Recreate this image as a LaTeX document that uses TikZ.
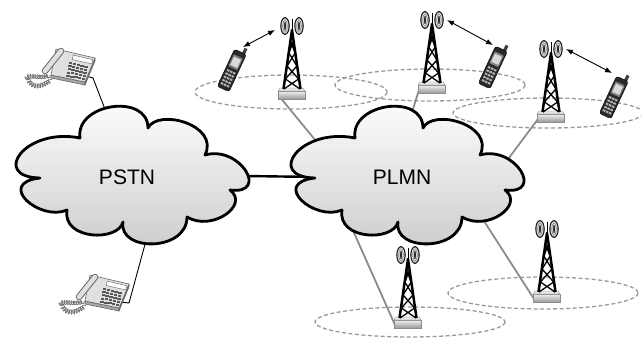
\documentclass[tikz,border=0pt]{standalone}
\usepackage{fontspec}
\setmainfont{Liberation Sans}
\usetikzlibrary{arrows.meta,decorations.pathmorphing}
\pgfdeclarelayer{bg}
\pgfsetlayers{bg,main}
\definecolor{linkgray}{HTML}{8C8C8C}
\definecolor{cellgray}{HTML}{9A9A9A}
\definecolor{phonebody}{HTML}{2A2A2A}
\tikzset{
  cloudshape/.style={line width=2.8pt, line join=round, draw=black,
                     top color=white, bottom color=black!20},
  cloudlabel/.style={font=\fontsize{21}{24}\selectfont, inner sep=0pt},
  backhaul/.style={draw=linkgray, line width=1.8pt},
  cellarea/.style={draw=cellgray, line width=1.3pt, dash pattern=on 4pt off 2.5pt},
  trunk/.style={draw=black, line width=2.4pt},
  wire/.style={draw=black, line width=0.9pt},
  radiolink/.style={draw=black, line width=0.9pt,
     {Latex[length=7pt,width=5.5pt]}-{Latex[length=7pt,width=5.5pt]}},
  % irregular network cloud with its label
  pics/netcloud/.style={code={
    \path[cloudshape] (-90,1)
      .. controls (-140,0) and (-105,-50) .. (-50,-39)
      .. controls (-55,-74) and (18,-84) .. (18,-49)
      .. controls (28,-69) and (90,-52) .. (75,-22)
      .. controls (110,-32) and (140,18) .. (100,13)
      .. controls (120,28) and (82,55) .. (57,40)
      .. controls (57,75) and (-12,75) .. (-7,45)
      .. controls (-12,65) and (-68,63) .. (-63,33)
      .. controls (-90,45) and (-135,6) .. cycle;
    \node[cloudlabel] (-label) at (-3,0) {#1};
    \coordinate (-e) at (115,-1);
    \coordinate (-w) at (-88,0);
    \coordinate (-n) at (-22,-60);
    \coordinate (-s) at (17,60);
  }},
  % lattice radio mast on a plinth, origin at the plinth's bottom centre
  pics/mast/.style={code={
    \path[draw=black!45, line width=0.4pt, top color=black!5, bottom color=black!40]
      (-14,-8) rectangle (13,0);
    \path[draw=black!45, line width=0.4pt, fill=black!10]
      (-14,-8) -- (-12,-11) -- (11,-11) -- (13,-8) -- cycle;
    \draw[line width=2.5pt, line join=round] (-8.5,-10) -- (0,-69) -- (8.5,-10);
    \draw[line width=1.3pt]
      (-1.5,-58) -- (3.1,-46)  (1.5,-58) -- (-3.1,-46)
      (-3.1,-46) -- (4.9,-33)  (3.1,-46) -- (-4.9,-33)
      (-4.9,-33) -- (6.6,-20)  (4.9,-33) -- (-6.6,-20)
      (-6.6,-20) -- (8,-10)    (6.6,-20) -- (-8,-10);
    \draw[line width=1pt] (0,-69) -- (0,-80);
    \foreach \s in {-1,1} {
      \draw[fill=black!55, line width=0.7pt] (\s*7,-73) ellipse [x radius=4.3, y radius=8.5];
      \draw[white, line width=0.5pt] (\s*7,-73) ellipse [x radius=2.9, y radius=7];
      \draw[white, line width=0.5pt] (\s*7,-73) ellipse [x radius=1.5, y radius=5.4];
      \fill[black] (\s*7,-73) ellipse [x radius=0.6, y radius=4];
    }
    \coordinate (-foot) at (-13,-3);
    \coordinate (-antl) at (-17,-69);
    \coordinate (-antr) at (15,-73);
  }},
  % mobile handset, origin at its centre
  pics/cellphone/.style={code={
    \begin{scope}[rotate=-25]
      \fill[black!75] (2,-19) rectangle (5.2,-25.5);
      \draw[fill=phonebody, line width=0.4pt, rounded corners=2.5pt] (-6.5,-20) rectangle (6.5,21);
      \fill[black!50, rounded corners=1pt] (-5,-15) rectangle (5,-2);
      \fill[black!15] (-3.8,-13) rectangle (3.8,-4);
      \foreach \r in {0,...,4} \foreach \c in {-1,0,1}
        \fill[black!30] (\c*3.3-1.3,1+\r*3.6) rectangle ++(2.6,2);
    \end{scope}
  }},
  % desk telephone, origin at the body centre
  pics/deskset/.style={code={
    \draw[black!55, line width=0.7pt, decorate,
          decoration={coil, aspect=0.6, segment length=2.4pt, amplitude=2pt}]
      (-22,9) .. controls (-32,14) and (-48,6) .. (-43,15)
              .. controls (-38,23) and (-28,20) .. (-20,13);
    \draw[fill=black!35, draw=black!60, line width=0.6pt, line join=round]
      (-21,9) -- (13,16) -- (13,19) -- (-21,12) -- cycle;
    \draw[fill=black!50, draw=black!60, line width=0.6pt, line join=round]
      (13,16) -- (23,-8) -- (23,-5) -- (13,19) -- cycle;
    \draw[fill=black!12, draw=black!60, line width=0.6pt, line join=round]
      (-16,-17) -- (23,-8) -- (13,16) -- (-21,9) -- cycle;
    \draw[fill=white, draw=black!55, line width=0.5pt]
      (1.15,-10.9) -- (20.6,-6.4) -- (19.8,-2) -- (0.3,-6.5) -- cycle;
    \foreach \u in {0.42,0.52,0.62,0.72,0.82} \foreach \v in {0.4,0.52,0.64,0.76,0.88}
      \fill[black!65] (-16+39*\u-5*\v-1.6, -17+9*\u+26*\v-1) rectangle ++(3.4,2);
    \draw[line width=6.5pt, line cap=round, black!60] (-27,5) -- (-11,-15);
    \draw[line width=4.6pt, line cap=round, black!12] (-27,5) -- (-11,-15);
    \coordinate (-jack) at (14,10);
  }},
}
\begin{document}
\begin{tikzpicture}[x=1pt,y=-1pt]
\useasboundingbox (0,0) rectangle (641,343);

% the two networks
\pic (pstn) at (130,177) {netcloud=PSTN};
\pic (plmn) at (405,177) {netcloud=PLMN};

% base stations
\pic (t1) at (292,99) {mast};
\pic (t2) at (432,93) {mast};
\pic (t3) at (551,122) {mast};
\pic (t4) at (408,328) {mast};
\pic (t5) at (547,302) {mast};

% mobiles
\pic (m1) at (232,70) {cellphone};
\pic (m2) at (493,67) {cellphone};
\pic (m3) at (614,97) {cellphone};

% fixed telephones
\pic (tel1) at (72,66) {deskset};
\pic (tel2) at (106,292) {deskset};

% hidden ends of the backhaul links inside the PLMN cloud
\coordinate (bh1) at (325,152);
\coordinate (bh2) at (409,122);
\coordinate (bh3) at (500,170);
\coordinate (bh4) at (351,226);
\coordinate (bh5) at (475,207);

% ends of the radio links at the handsets
\coordinate (m1e) at (243,47);
\coordinate (m2e) at (493,45);
\coordinate (m3e) at (612,73);

\begin{pgfonlayer}{bg}
  % cell coverage areas
  \draw[cellarea] (291,92) ellipse [x radius=96, y radius=17];
  \draw[cellarea] (430,85) ellipse [x radius=95, y radius=16];
  \draw[cellarea] (548,113) ellipse [x radius=95, y radius=15];
  \draw[cellarea] (410,322) ellipse [x radius=95, y radius=15];
  \draw[cellarea] (543,293) ellipse [x radius=95, y radius=16];
  % backhaul
  \draw[backhaul] (t1-foot) -- (bh1);
  \draw[backhaul] (t2-foot) -- (bh2);
  \draw[backhaul] (t3-foot) -- (bh3);
  \draw[backhaul] (t4-foot) -- (bh4);
  \draw[backhaul] (t5-foot) -- (bh5);
  % interconnect and subscriber lines
  \draw[trunk] (pstn-e) -- (plmn-w);
  \draw[wire] (tel1-jack) -- ++(7,2) -- (pstn-n);
  \draw[wire] (tel2-jack) -- ++(9,1) -- (pstn-s);
\end{pgfonlayer}

% radio links
\draw[radiolink] (m1e) -- (t1-antl);
\draw[radiolink] (t2-antr) -- (m2e);
\draw[radiolink] (t3-antr) -- (m3e);
\end{tikzpicture}
\end{document}
